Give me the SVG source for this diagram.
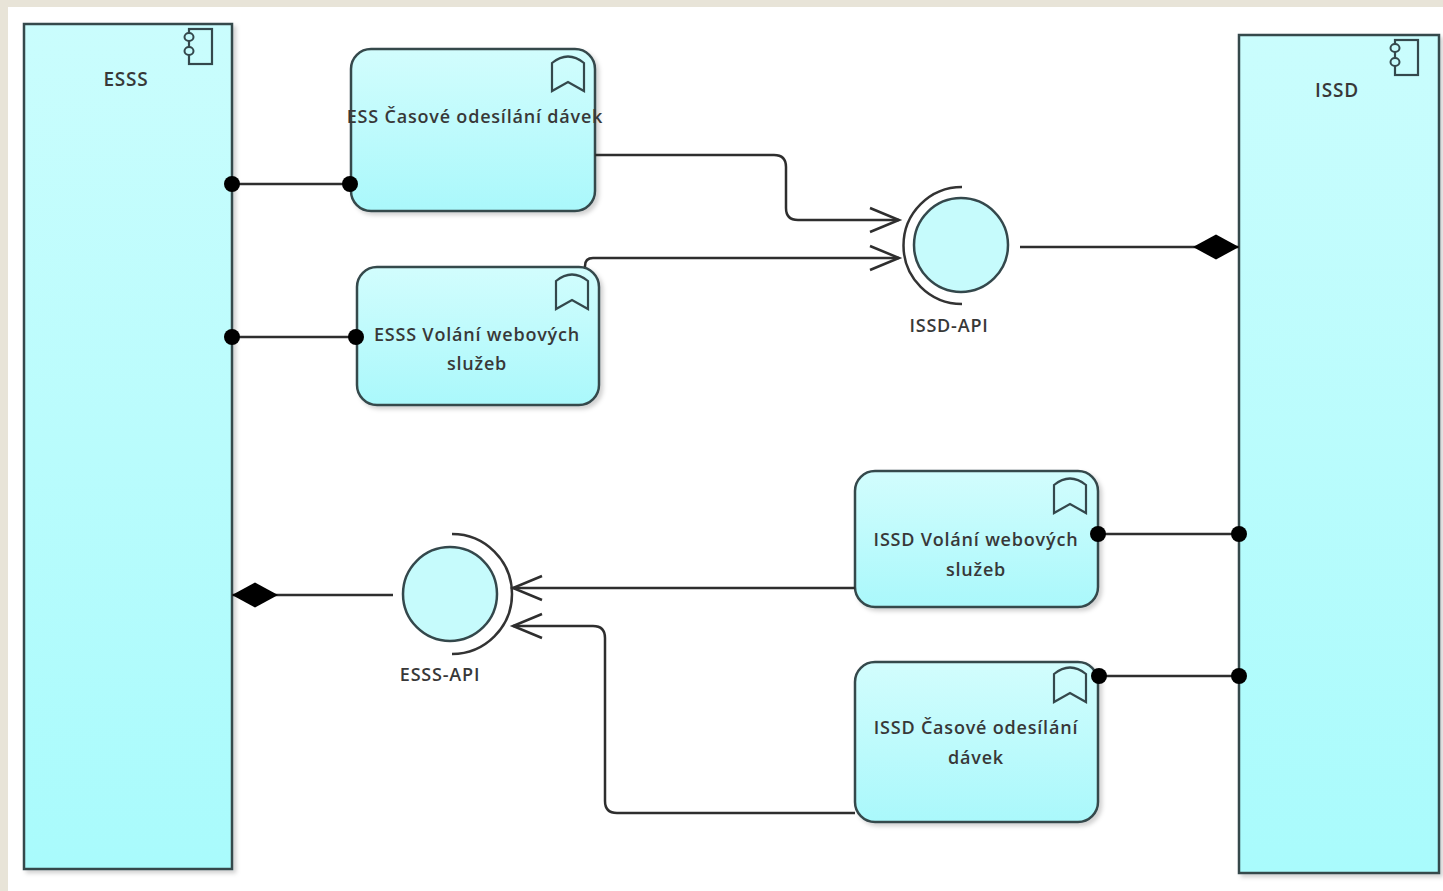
<svg xmlns="http://www.w3.org/2000/svg" width="1443" height="891" viewBox="0 0 1443 891">
<style>
.comp{stroke:#34484c;stroke-width:2.5;fill:url(#gc)}
.fn{stroke:#34484c;stroke-width:2.5;fill:url(#gf)}
.ifc{stroke:#34484c;stroke-width:2.5;fill:#c6fbfc}
.sock{stroke:#333;stroke-width:2.5;fill:none}
.icon{stroke:#34484c;stroke-width:2.2;fill:none}
.port{stroke:#34484c;stroke-width:2;fill:#c6fbfc}
.lbl{font-family:"Open Sans","Liberation Sans",sans-serif;font-weight:600;font-size:18px;letter-spacing:0.8px;fill:#383838;text-anchor:middle}
.big{font-size:19px}
.cn{stroke:#2e2e2e;stroke-width:2.5;fill:none}
</style>
<defs>
<linearGradient id="gc" x1="0" y1="0" x2="0" y2="1">
<stop offset="0" stop-color="#cafdfd"/>
<stop offset="1" stop-color="#a9fbfc"/>
</linearGradient>
<linearGradient id="gf" x1="0" y1="0" x2="0" y2="1">
<stop offset="0" stop-color="#d2fdfd"/>
<stop offset="1" stop-color="#aaf8fb"/>
</linearGradient>
<filter id="sh" x="-10%" y="-10%" width="130%" height="130%">
<feDropShadow dx="3" dy="3" stdDeviation="2" flood-color="#000" flood-opacity="0.18"/>
</filter>
<marker id="dot" markerUnits="userSpaceOnUse" viewBox="-10 -10 20 20" markerWidth="20" markerHeight="20" refX="0" refY="0" orient="auto">
<circle cx="0" cy="0" r="8" fill="#000"/>
</marker>
<marker id="open" markerUnits="userSpaceOnUse" viewBox="-32 -16 36 32" markerWidth="36" markerHeight="32" refX="0" refY="0" orient="auto">
<path d="M-29,-12 L0,0 L-29,12" fill="none" stroke="#2e2e2e" stroke-width="2.5"/>
</marker>
<marker id="dia" markerUnits="userSpaceOnUse" viewBox="-48 -14 50 28" markerWidth="50" markerHeight="28" refX="0" refY="0" orient="auto">
<path d="M0,0 L-23,-12.5 L-46,0 L-23,12.5 Z" fill="#000"/>
</marker>
<g id="cicon">
<rect x="0" y="0" width="23" height="35" class="icon"/>
<ellipse cx="0" cy="8" rx="4.5" ry="4" class="port"/>
<ellipse cx="0" cy="22" rx="4.5" ry="4" class="port"/>
</g>
<path id="bm" d="M0,36 L0,8 Q16,-5 32,8 L32,36 L16,27 Z" class="icon"/>
</defs>

<rect x="0" y="0" width="1443" height="891" fill="#ffffff"/>
<rect x="0" y="0" width="1443" height="7" fill="#e8e4d8"/>
<rect x="0" y="0" width="8" height="891" fill="#e8e4d8"/>

<g id="ESSS">
<rect x="24" y="24" width="208" height="845" class="comp" filter="url(#sh)"/>
<use href="#cicon" x="189" y="29"/>
<text x="126" y="86" class="lbl big">ESSS</text>
</g>

<g id="ISSD">
<rect x="1239" y="35" width="200" height="838" class="comp" filter="url(#sh)"/>
<use href="#cicon" x="1395" y="40"/>
<text x="1337" y="97" class="lbl big">ISSD</text>
</g>

<g id="ESS_casove">
<rect x="351" y="49" width="244" height="162" rx="20" class="fn" filter="url(#sh)"/>
<use href="#bm" x="552" y="55"/>
<text x="475" y="123" class="lbl">ESS Časové odesílání dávek</text>
</g>

<g id="ESSS_volani">
<rect x="357" y="267" width="242" height="138" rx="20" class="fn" filter="url(#sh)"/>
<use href="#bm" x="556" y="273"/>
<text x="477" y="341" class="lbl">ESSS Volání webových</text>
<text x="477" y="370" class="lbl">služeb</text>
</g>

<g id="ISSD_volani">
<rect x="855" y="471" width="243" height="136" rx="20" class="fn" filter="url(#sh)"/>
<use href="#bm" x="1054" y="477"/>
<text x="976" y="546" class="lbl">ISSD Volání webových</text>
<text x="976" y="576" class="lbl">služeb</text>
</g>

<g id="ISSD_casove">
<rect x="855" y="662" width="243" height="160" rx="20" class="fn" filter="url(#sh)"/>
<use href="#bm" x="1054" y="666"/>
<text x="976" y="734" class="lbl">ISSD Časové odesílání</text>
<text x="976" y="764" class="lbl">dávek</text>
</g>

<g id="ISSD-API">
<circle cx="961" cy="245" r="47" class="ifc"/>
<path d="M962,187 A58.5,58.5 0 0 0 962,304" class="sock"/>
<text x="949" y="332" class="lbl">ISSD-API</text>
</g>

<g id="ESSS-API">
<circle cx="450" cy="594" r="47" class="ifc"/>
<path d="M452,534 A60,60 0 0 1 452,654" class="sock"/>
<text x="440" y="681" class="lbl">ESSS-API</text>
</g>

<g id="connectors">
<path d="M232,184 L350,184" class="cn" marker-start="url(#dot)" marker-end="url(#dot)"/>
<path d="M232,337 L356,337" class="cn" marker-start="url(#dot)" marker-end="url(#dot)"/>
<path d="M595,155 L774,155 Q786,155 786,167 L786,208 Q786,220 798,220 L899,220" class="cn" marker-end="url(#open)"/>
<path d="M585,267 L585,266 Q585,258 593,258 L899,258" class="cn" marker-end="url(#open)"/>
<path d="M1020,247 L1239,247" class="cn" marker-end="url(#dia)"/>
<path d="M1239,534 L1098,534" class="cn" marker-start="url(#dot)" marker-end="url(#dot)"/>
<path d="M1239,676 L1099,676" class="cn" marker-start="url(#dot)" marker-end="url(#dot)"/>
<path d="M855,588 L513,588" class="cn" marker-end="url(#open)"/>
<path d="M855,813 L617,813 Q605,813 605,801 L605,638 Q605,626 593,626 L513,626" class="cn" marker-end="url(#open)"/>
<path d="M393,595 L232,595" class="cn" marker-end="url(#dia)"/>
</g>
</svg>
